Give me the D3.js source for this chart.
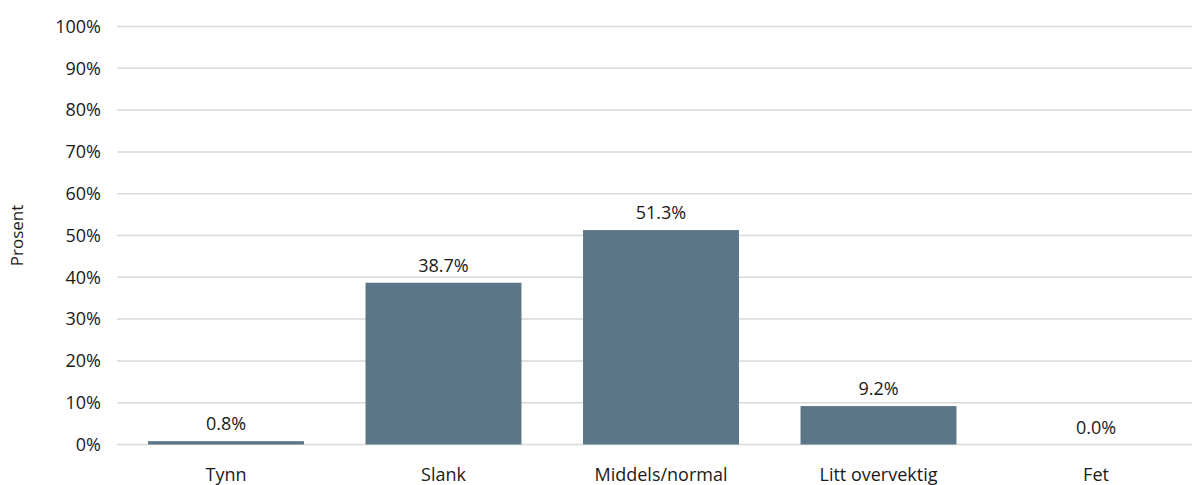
<!DOCTYPE html>
<html><head><meta charset="utf-8">
<script src="https://cdn.jsdelivr.net/npm/d3@7"></script>
<style>
html,body{margin:0;padding:0;background:#fff;}
text{font-family:"Open Sans",sans-serif;fill:#1a1a1a;}
</style></head>
<body>
<svg id="chart" width="1192" height="485"></svg>
<script>
const categories = ["Tynn", "Slank", "Middels/normal", "Litt overvektig", "Fet"];
const values = [0.8, 38.7, 51.3, 9.2, 0.0];
const yTicks = [0, 10, 20, 30, 40, 50, 60, 70, 80, 90, 100];
const yTitle = "Prosent";

const FS = 18;
const svg = d3.select("#chart");
const W = 1192;
const x = d3.scaleBand().domain(categories).range([117.25, 1204.75])
  .paddingInner(0.283).paddingOuter(0.1415);
const y = d3.scaleLinear().domain([0, 100]).range([444.5, 26.5]);

// gridlines
svg.append("g").selectAll("line").data(yTicks).join("line")
  .attr("x1", 117).attr("x2", W)
  .attr("y1", d => y(d)).attr("y2", d => y(d))
  .attr("stroke", "#d9d9d9").attr("stroke-width", 1.5);

// y axis labels
const yAxis = d3.axisLeft(y).tickValues(yTicks).tickFormat(d => d + "%").tickSize(0).tickPadding(0);
const ya = svg.append("g").attr("transform", "translate(101,0)").call(yAxis);
ya.select(".domain").remove();
ya.selectAll("text").attr("font-size", FS).attr("fill", "#1a1a1a")
  .style("font-family", "'Open Sans',sans-serif");

// bars
svg.append("g").selectAll("rect").data(categories).join("rect")
  .attr("x", d => x(d)).attr("width", x.bandwidth())
  .attr("y", (d, i) => y(values[i]))
  .attr("height", (d, i) => y(0) - y(values[i]))
  .attr("fill", "#5b7787");

// data labels
svg.append("g").selectAll("text").data(categories).join("text")
  .attr("x", d => x(d) + x.bandwidth() / 2)
  .attr("y", (d, i) => y(values[i]) - 11)
  .attr("text-anchor", "middle").attr("font-size", FS)
  .text((d, i) => values[i].toFixed(1) + "%");

// x axis labels
const xAxis = d3.axisBottom(x).tickSize(0).tickPadding(0);
const xa = svg.append("g").attr("transform", "translate(0,468.7)").call(xAxis);
xa.select(".domain").remove();
xa.selectAll("text").attr("font-size", FS).attr("fill", "#1a1a1a")
  .style("font-family", "'Open Sans',sans-serif");

// y title
svg.append("text")
  .attr("transform", `translate(23,${(y(0) + y(100)) / 2}) rotate(-90)`)
  .attr("text-anchor", "middle").attr("font-size", 17)
  .text(yTitle);
</script>
</body></html>
